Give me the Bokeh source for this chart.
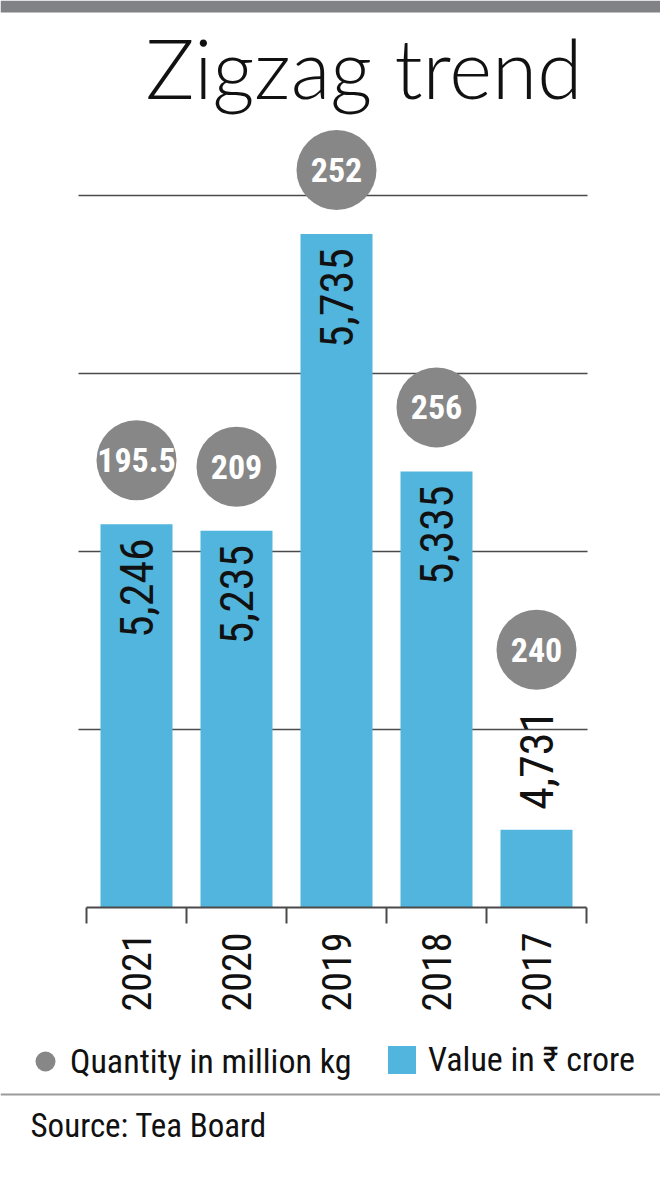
import math
from bokeh.plotting import figure
from bokeh.models import (Range1d, LinearAxis, FixedTicker, Label, Span,
                          Legend, LegendItem, ColumnDataSource)
from bokeh.core.properties import value
from bokeh.embed import file_html
from bokeh.resources import INLINE

# ---------------- data ----------------
years = ["2021", "2020", "2019", "2018", "2017"]
value_crore = [5246, 5235, 5735, 5335, 4731]          # Value in Rs crore (bars)
quantity_mkg = [195.5, 209, 252, 256, 240]            # Quantity in million kg (bubbles)
grid_values = [4900, 5200, 5500, 5800]
y_base = 4600

# ---------------- layout constants ----------------
W, H = 660, 1182
PX_PER_X = 100.0
PX_PER_Y = 178.0 / 300.0
X0_PX = 86          # figure x pixel of x = 0
BASE_PX = 907       # figure y pixel (from top) of y_base

x_start = -X0_PX / PX_PER_X
x_end = x_start + W / PX_PER_X
y_end = y_base + BASE_PX / PX_PER_Y
y_start = y_end - H / PX_PER_Y

NARROW = "'Liberation Sans Narrow', 'Roboto Condensed', 'DejaVu Sans Condensed', sans-serif"
LIGHT = "'Lato Light', 'Roboto Light', 'Open Sans Light', Lato, sans-serif"
BAR_COLOR = "#52b5dd"
BUBBLE_COLOR = "#878787"
INK = "#111111"

n = len(years)
centers = [i + 0.5 for i in range(n)]
bounds = list(range(n + 1))

LABEL_LEN_PX = 96
LABEL_PAD_IN = 14
LABEL_PAD_OUT = 20
BUBBLE_GAP_PX = 64

in_x, in_y, in_t = [], [], []
out_x, out_y, out_t = [], [], []
bubble_y = []
for c, v in zip(centers, value_crore):
    bar_px = (v - y_base) * PX_PER_Y
    lab = f"{v:,}"
    if bar_px >= LABEL_LEN_PX + 2 * LABEL_PAD_IN:
        in_x.append(c); in_y.append(v); in_t.append(lab)
        bubble_y.append(v + BUBBLE_GAP_PX / PX_PER_Y)
    else:
        out_x.append(c); out_y.append(v); out_t.append(lab)
        bubble_y.append(v + (LABEL_PAD_OUT + LABEL_LEN_PX + BUBBLE_GAP_PX) / PX_PER_Y)

qty_labels = [f"{q:g}" for q in quantity_mkg]

# ---------------- figure ----------------
p = figure(width=W, height=H, x_range=Range1d(x_start, x_end),
           y_range=Range1d(y_start, y_end), x_axis_location=None,
           y_axis_location=None, toolbar_location=None, output_backend="svg",
           min_border=0, title=None)
p.outline_line_color = None
p.background_fill_color = "white"
p.border_fill_color = "white"
p.xgrid.visible = False
p.ygrid.visible = False

# gridlines
p.segment(x0=[-0.08] * len(grid_values), x1=[5.01] * len(grid_values),
          y0=grid_values, y1=grid_values, line_color="#4a4a4a", line_width=1.6)

# bars
src = ColumnDataSource(dict(x=centers, top=value_crore, year=years))
bars = p.vbar(x="x", top="top", bottom=y_base, width=0.72, source=src,
              fill_color=BAR_COLOR, line_color=None)

# axis with boundary ticks
xaxis = LinearAxis(fixed_location=y_base, ticker=FixedTicker(ticks=bounds),
                   bounds=(0, n))
xaxis.axis_line_color = "#4a4a4a"
xaxis.axis_line_width = 2
xaxis.major_tick_line_color = "#4a4a4a"
xaxis.major_tick_line_width = 2
xaxis.major_tick_out = 16
xaxis.major_tick_in = 0
xaxis.minor_tick_line_color = None
xaxis.major_label_text_color = None
p.add_layout(xaxis, "below")

# year labels
p.text(x=centers, y=[y_base] * n, text=years, angle=math.pi / 2,
       text_align="right", text_baseline="middle", y_offset=25,
       text_font=value(NARROW), text_font_size="40px", text_color=INK)

# value labels
p.text(x=in_x, y=in_y, text=in_t, angle=math.pi / 2, text_align="right",
       text_baseline="middle", y_offset=LABEL_PAD_IN, text_font=value(NARROW),
       text_font_size="46px", text_color=INK)
p.text(x=out_x, y=out_y, text=out_t, angle=math.pi / 2, text_align="left",
       text_baseline="middle", y_offset=-LABEL_PAD_OUT, text_font=value(NARROW),
       text_font_size="46px", text_color=INK)

# bubbles
bubbles = p.scatter(x=centers, y=bubble_y, size=80, marker="circle",
                    fill_color=BUBBLE_COLOR, line_color=None)
p.text(x=centers, y=bubble_y, text=qty_labels, text_align="center",
       text_baseline="middle", text_font=value(NARROW), text_font_size="34px",
       text_font_style="bold", text_color="white")

# top band and separator
p.add_layout(Span(location=H - 6, location_units="screen", dimension="width",
                  line_color="#808285", line_width=12))
p.add_layout(Span(location=88, location_units="screen", dimension="width",
                  line_color="#9c9c9c", line_width=2))

# title
p.add_layout(Label(x=145, y=1116, x_units="screen", y_units="screen",
                   text="Zigzag trend", text_baseline="middle",
                   text_font=LIGHT, text_font_size="82px", text_color=INK))

# legends
leg_q = Legend(items=[LegendItem(label="Quantity in million kg", renderers=[bubbles])],
               location=(20, 96), orientation="horizontal", glyph_width=50,
               glyph_height=50, label_standoff=0, padding=0, margin=0, spacing=0,
               border_line_color=None, background_fill_alpha=0,
               label_text_font=NARROW, label_text_font_size="34px",
               label_text_color=INK)
leg_v = Legend(items=[LegendItem(label="Value in ₹ crore", renderers=[bars])],
               location=(384, 103), orientation="horizontal", glyph_width=35,
               glyph_height=35, label_standoff=9, padding=0, margin=0, spacing=0,
               border_line_color=None, background_fill_alpha=0,
               label_text_font=NARROW, label_text_font_size="34px",
               label_text_color=INK)
p.add_layout(leg_q)
p.add_layout(leg_v)

# source
p.add_layout(Label(x=30, y=57, x_units="screen", y_units="screen",
                   text="Source: Tea Board", text_baseline="middle",
                   text_font=NARROW, text_font_size="33px", text_color=INK))

open("out.html", "w").write(file_html(p, INLINE))
